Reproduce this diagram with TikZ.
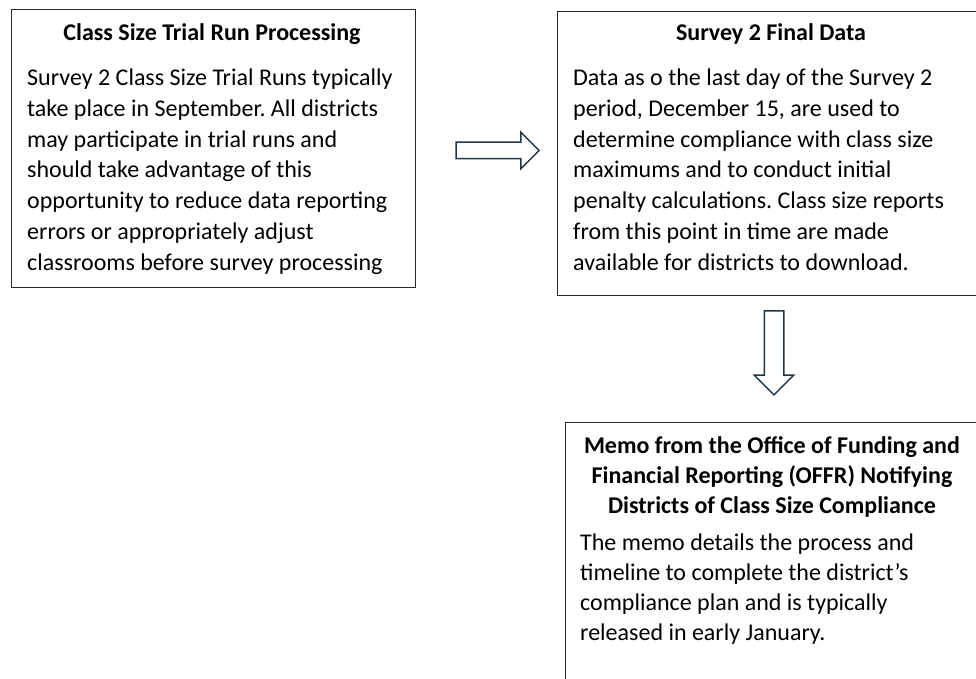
\documentclass[tikz,border=0pt]{standalone}
\usepackage{fontspec}
\setmainfont{Carlito}
\usetikzlibrary{shapes.arrows}
\definecolor{arrowline}{RGB}{33,55,72}
\definecolor{boxline}{RGB}{40,40,40}
\frenchspacing

\begin{document}
\begin{tikzpicture}[x=1pt,y=-1pt]
	\useasboundingbox (0,0) rectangle (976,679);
	\begin{scope}[every node/.style={rectangle,draw=boxline,line width=1.3pt,anchor=north west,inner sep=0pt}]
		\node[minimum width=404pt,minimum height=278pt] (trial) at (11,9) {};
		\node[minimum width=440pt,minimum height=284pt] (final) at (557,11) {};
		\node[minimum width=440pt,minimum height=290pt] (memo) at (565,422) {};
	\end{scope}
	
	\begin{scope}[every node/.style={font=\fontsize{24}{30}\selectfont\bfseries,align=center,anchor=base,inner sep=0pt}]
		\node (trialtitle) at (212,41) {Class Size Trial Run Processing};
		\node (finaltitle) at (771,41) {Survey 2 Final Data};
		\node (memotitle) at (772,513) {Memo from the Office of Funding and\\Financial Reporting (OFFR) Notifying\\Districts of Class Size Compliance};
	\end{scope}
	
	\begin{scope}[every node/.style={font=\fontsize{24}{30.7}\selectfont,align=left,anchor=north west,inner sep=0pt}]
		\node (trialtext) at (27,69) {Survey 2 Class Size Trial Runs typically\\take place in September. All districts\\may participate in trial runs and\\should take advantage of this\\opportunity to reduce data reporting\\errors or appropriately adjust\\classrooms before survey processing};
		\node (finaltext) at (573,69) {Data as o the last day of the Survey 2\\period, December 15, are used to\\determine compliance with class size\\maximums and to conduct initial\\penalty calculations. Class size reports\\from this point in time are made\\available for districts to download.};
		\node[font=\fontsize{24}{29.8}\selectfont] (memotext) at (580,534) {The memo details the process and\\timeline to complete the district’s\\compliance plan and is typically\\released in early January.};
	\end{scope}
	
	\begin{scope}[every node/.style={single arrow,draw=arrowline,line width=1.5pt,fill=white,
				  single arrow head extend=10pt,single arrow head indent=0pt}]
		\node[minimum height=83pt,inner sep=7.5pt] (toright) at (493.5,150.5) {};
		\node[minimum height=84pt,inner sep=9pt,shape border rotate=270] (todown) at (774,348) {};
	\end{scope}
\end{tikzpicture}
\end{document}
